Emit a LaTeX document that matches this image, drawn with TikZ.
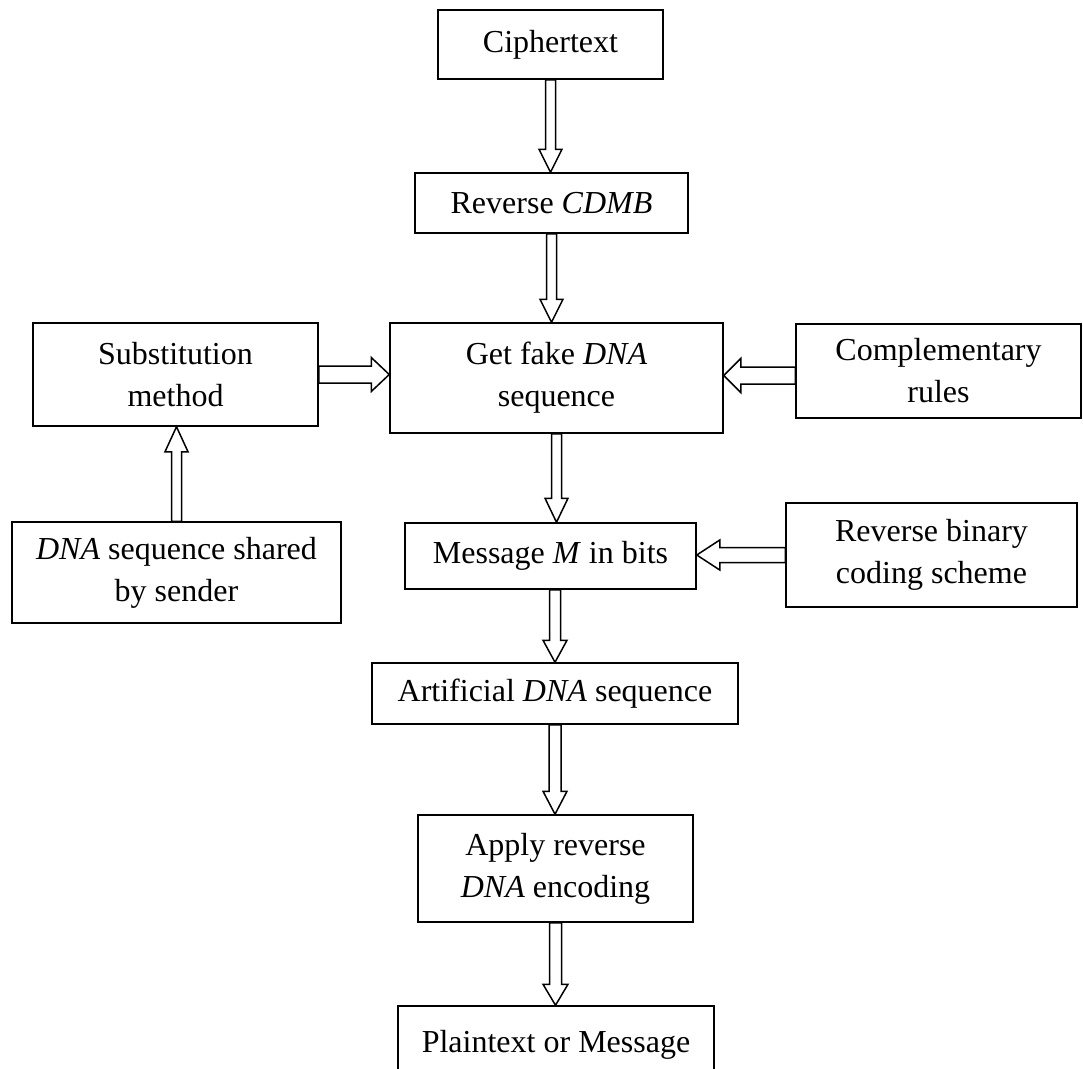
\documentclass[tikz,border=0pt]{standalone}
\usepackage{fontspec}
\setmainfont{Liberation Serif}
\usetikzlibrary{calc}

\tikzset{
  box/.style={draw, line width=1.5pt, rectangle, align=center, inner sep=0pt,
              font=\fontsize{32}{42}\selectfont},
  arrowline/.style={draw, line width=1.5pt, fill=white, line join=miter}
}

% Hollow block arrow from #1 to #2: shaft half-width #3, head half-width #4, head length #5
\newcommand\blockarrow[5]{%
  \path (#1) coordinate (ba-s) (#2) coordinate (ba-t);
  \path ($(ba-t)!#5!(ba-s)$) coordinate (ba-h);
  \draw[arrowline] ($(ba-s)!#3!90:(ba-t)$) -- ($(ba-h)!#3!90:(ba-t)$)
    -- ($(ba-h)!#4!90:(ba-t)$) -- (ba-t) -- ($(ba-h)!#4!-90:(ba-t)$)
    -- ($(ba-h)!#3!-90:(ba-t)$) -- ($(ba-s)!#3!-90:(ba-t)$) -- cycle;
}

\begin{document}
\begin{tikzpicture}[x=1pt,y=-1pt]
\useasboundingbox (0,0) rectangle (1083,1068);
\clip (0,0) rectangle (1083,1068);

% main column
\node[box, minimum width=225pt, minimum height=69pt]  (cipher) at (550.5,44.5) {Ciphertext};
\node[box, minimum width=273pt, minimum height=60pt]  (cdmb)   at (551.5,203)  {Reverse \textit{CDMB}};
\node[box, minimum width=333pt, minimum height=110pt] (fake)   at (556.5,378)  {Get fake \textit{DNA}\\sequence};
\node[box, minimum width=291pt, minimum height=66pt]  (msg)    at (550.5,556)  {Message \textit{M} in bits};
\node[box, minimum width=366pt, minimum height=61pt]  (artif)  at (555,693.5)  {Artificial \textit{DNA} sequence};
\node[box, minimum width=275pt, minimum height=107pt] (apply)  at (555.5,868.5) {Apply reverse\\\textit{DNA} encoding};
\node[box, minimum width=316pt, minimum height=77pt]  (plain)  at (556,1044.5) {Plaintext or Message};

% side inputs
\node[box, minimum width=285pt, minimum height=103pt] (subst)  at (175.5,374.5) {Substitution\\method};
\node[box, minimum width=285pt, minimum height=94pt]  (compl)  at (938.5,371)  {Complementary\\rules};
\node[box, minimum width=329pt, minimum height=101pt] (shared) at (176.5,572.5) {\textit{DNA} sequence shared\\by sender};
\node[box, minimum width=291pt, minimum height=104pt] (binary) at (931.5,555)  {Reverse binary\\coding scheme};

% vertical flow
\blockarrow{cipher.south}{cipher.south |- cdmb.north}{5pt}{11.5pt}{23pt}
\blockarrow{cdmb.south}{cdmb.south |- fake.north}{5pt}{11.5pt}{23pt}
\blockarrow{fake.south}{fake.south |- msg.north}{5pt}{11.5pt}{24pt}
\blockarrow{msg.south -| artif.north}{artif.north}{5.5pt}{12pt}{22pt}
\blockarrow{artif.south}{artif.south |- apply.north}{6pt}{12pt}{23pt}
\blockarrow{apply.south}{apply.south |- plain.north}{6pt}{12.5pt}{21pt}
\blockarrow{shared.north}{shared.north |- subst.south}{5pt}{11.5pt}{25pt}

% horizontal inputs
\blockarrow{subst.east}{subst.east -| fake.west}{8.5pt}{17pt}{18pt}
\blockarrow{$(compl.west)+(0,4.5)$}{$(compl.west -| fake.east)+(0,4.5)$}{8.5pt}{17pt}{17pt}
\blockarrow{binary.west}{binary.west -| msg.east}{7.5pt}{15pt}{23pt}
\end{tikzpicture}
\end{document}
